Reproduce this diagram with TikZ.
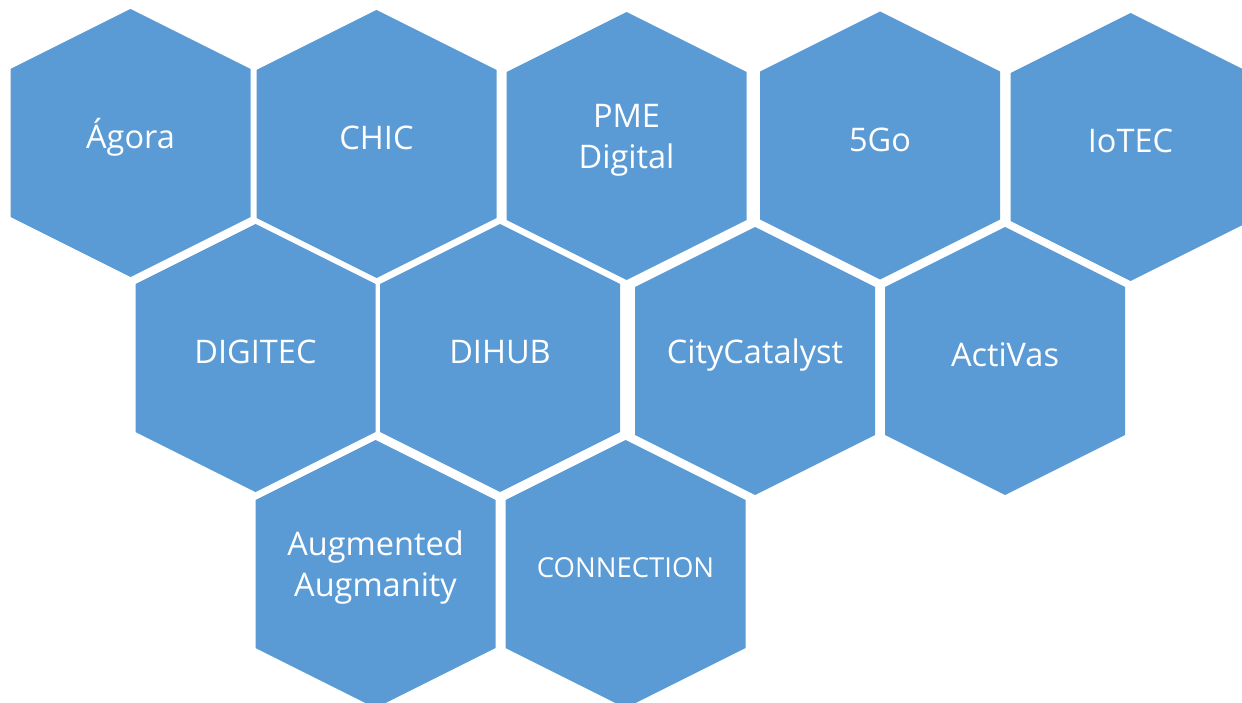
\documentclass[tikz,border=0pt]{standalone}
\usepackage{fontspec}
\setmainfont{Open Sans}
\definecolor{hexblue}{HTML}{5B9BD5}
\tikzset{
  hexa/.style    = {fill=hexblue},
  hextext/.style = {text=white, align=center, yshift=6pt,
                    font=\fontsize{32.5}{41}\selectfont}
}
\newcommand{\hexw}{120}
\newcommand{\hexh}{134}
\newcommand{\hexs}{74}

\begin{document}
\begin{tikzpicture}[x=1pt, y=-1pt]
\clip (0,0) rectangle (1242,703);

% honeycomb, one hexagon per project with its name in the middle
\foreach \x/\y/\name/\txt in {
    130.5/143/agora/{Ágora},
    376.5/144/chic/{CHIC},
    626.5/146/pme/{PME\\Digital},
    880/145.5/fivego/{5Go},
    1130.5/147/iotec/{IoTEC},
    255.5/358/digitec/{DIGITEC},
    500/358/dihub/{DIHUB},
    755/361/city/{CityCatalyst},
    1005/361/activas/{ActiVas},
    375.5/574/augm/{Augmented\\Augmanity},
    625.5/574/conn/{\fontsize{27.5}{33}\selectfont CONNECTION}}
{
  \fill[hexa] (\x,\y-\hexh) -- (\x+\hexw,\y-\hexs) -- (\x+\hexw,\y+\hexs)
    -- (\x,\y+\hexh) -- (\x-\hexw,\y+\hexs) -- (\x-\hexw,\y-\hexs) -- cycle;
  \node[hextext] (\name) at (\x,\y) {\txt};
}
\end{tikzpicture}
\end{document}
